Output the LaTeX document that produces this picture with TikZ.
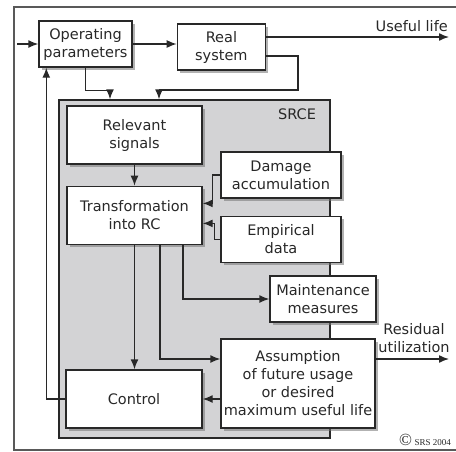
\documentclass[tikz,border=0pt]{standalone}
\usepackage{fontspec}
\setmainfont{DejaVu Sans}
\newfontfamily\copyfont{Liberation Serif}
\usetikzlibrary{arrows.meta, positioning, calc, shadows}
\definecolor{srcegray}{RGB}{211,211,213}
\definecolor{linegray}{RGB}{40,40,40}

\begin{document}
\begin{tikzpicture}[
        x=1pt, y=-1pt,
        every node/.style={font=\fontsize{14.5}{18}\selectfont, text=linegray},
        box/.style={rectangle, draw=linegray, fill=white, line width=1.4pt, align=center, inner sep=1pt,
            drop shadow={shadow xshift=3pt, shadow yshift=-3pt, fill=black!55, opacity=0.55}},
        link/.style={-{Latex[length=10pt, width=8pt]}, line width=1.4pt, draw=linegray},
        frame/.style={draw=gray!70!black, line width=1.3pt}
    ]
        \useasboundingbox (0,0) rectangle (456,451);
        \draw[frame] (456,7) -- (14,7) -- (14,450) -- (456,450);

        % SRCE block
        \node[draw=linegray, fill=srcegray, line width=1.4pt, minimum width=271pt, minimum height=338pt, inner sep=0pt] (srce) at (194.5,269) {};
        \node at (297,114) (srcelabel) {SRCE};

        \node[box, minimum width=93pt, minimum height=46pt] (op) at (85.5,44) {Operating\\parameters};
        \node[box, minimum width=88pt, minimum height=46pt, right=44pt of op, yshift=-3pt] (real) {Real\\system};
        \node[box, minimum width=135pt, minimum height=58pt] (relevant) at (134.5,135) {Relevant\\signals};
        \node[box, minimum width=135pt, minimum height=58pt, below=21pt of relevant] (trans) {Transformation\\into RC};
        \node[box, minimum width=120pt, minimum height=46pt] (damage) at (281,175) {Damage\\accumulation};
        \node[box, minimum width=120pt, minimum height=46pt, below=17pt of damage] (empirical) {Empirical\\data};
        \node[box, minimum width=106pt, minimum height=46pt] (maint) at (323,299) {Maintenance\\measures};
        \node[box, minimum width=154pt, minimum height=89pt] (assump) at (298,383.5) {Assumption\\of future usage\\or desired\\maximum useful life};
        \node[box, minimum width=136pt, minimum height=58pt] (control) at (134,399) {Control};

        \coordinate (in) at (17,44);
        \coordinate (uend) at (449,37);
        \coordinate (rend) at (449,359);
        \coordinate (bend) at (298,90);
        \coordinate (r1) at (159,90);
        \coordinate (r2) at (110,90);

        \draw[link] (in) -- (op.west);
        \draw[link] (op.east) -- (op.east -| real.west);
        \draw[link] (real.east |- uend) -- (uend);
        \node[anchor=south east, inner sep=0pt] (useful) at (448,32) {Useful life};
        \draw[link] ([yshift=-9pt]real.east) -| (bend) -| (r1 |- srce.north);
        \draw[link] (op.south) -- ++(0,23) -| (r2 |- srce.north);

        \draw[link] (relevant) -- (trans);
        \draw[link] (damage.west) -- ++(-8,0) |- ([yshift=12pt]trans.east);
        \draw[link] (empirical.west) -- ++(-6,0) |- ([yshift=-8pt]trans.east);
        \draw[link] (trans.south) -- (trans.south |- control.north);
        \draw[link] ([xshift=25.5pt]trans.south) |- ([yshift=24.5pt]assump.west);
        \draw[link] ([xshift=48.5pt]trans.south) |- (maint.west);
        \draw[link] (control.east -| assump.west) -- (control.east);
        \draw[link] (control.west) -| ([xshift=8pt]op.south west);

        \draw[link] ([yshift=24.5pt]assump.east) -- (rend);
        \node[align=center, inner sep=0pt] (residual) at (414,338) {Residual\\utilization};

        \node[inner sep=0pt] (copy) at (425,440) {\copyfont{\fontsize{17}{17}\selectfont ©}\,{\fontsize{9}{9}\selectfont SRS 2004}};
    \end{tikzpicture}
\end{document}
